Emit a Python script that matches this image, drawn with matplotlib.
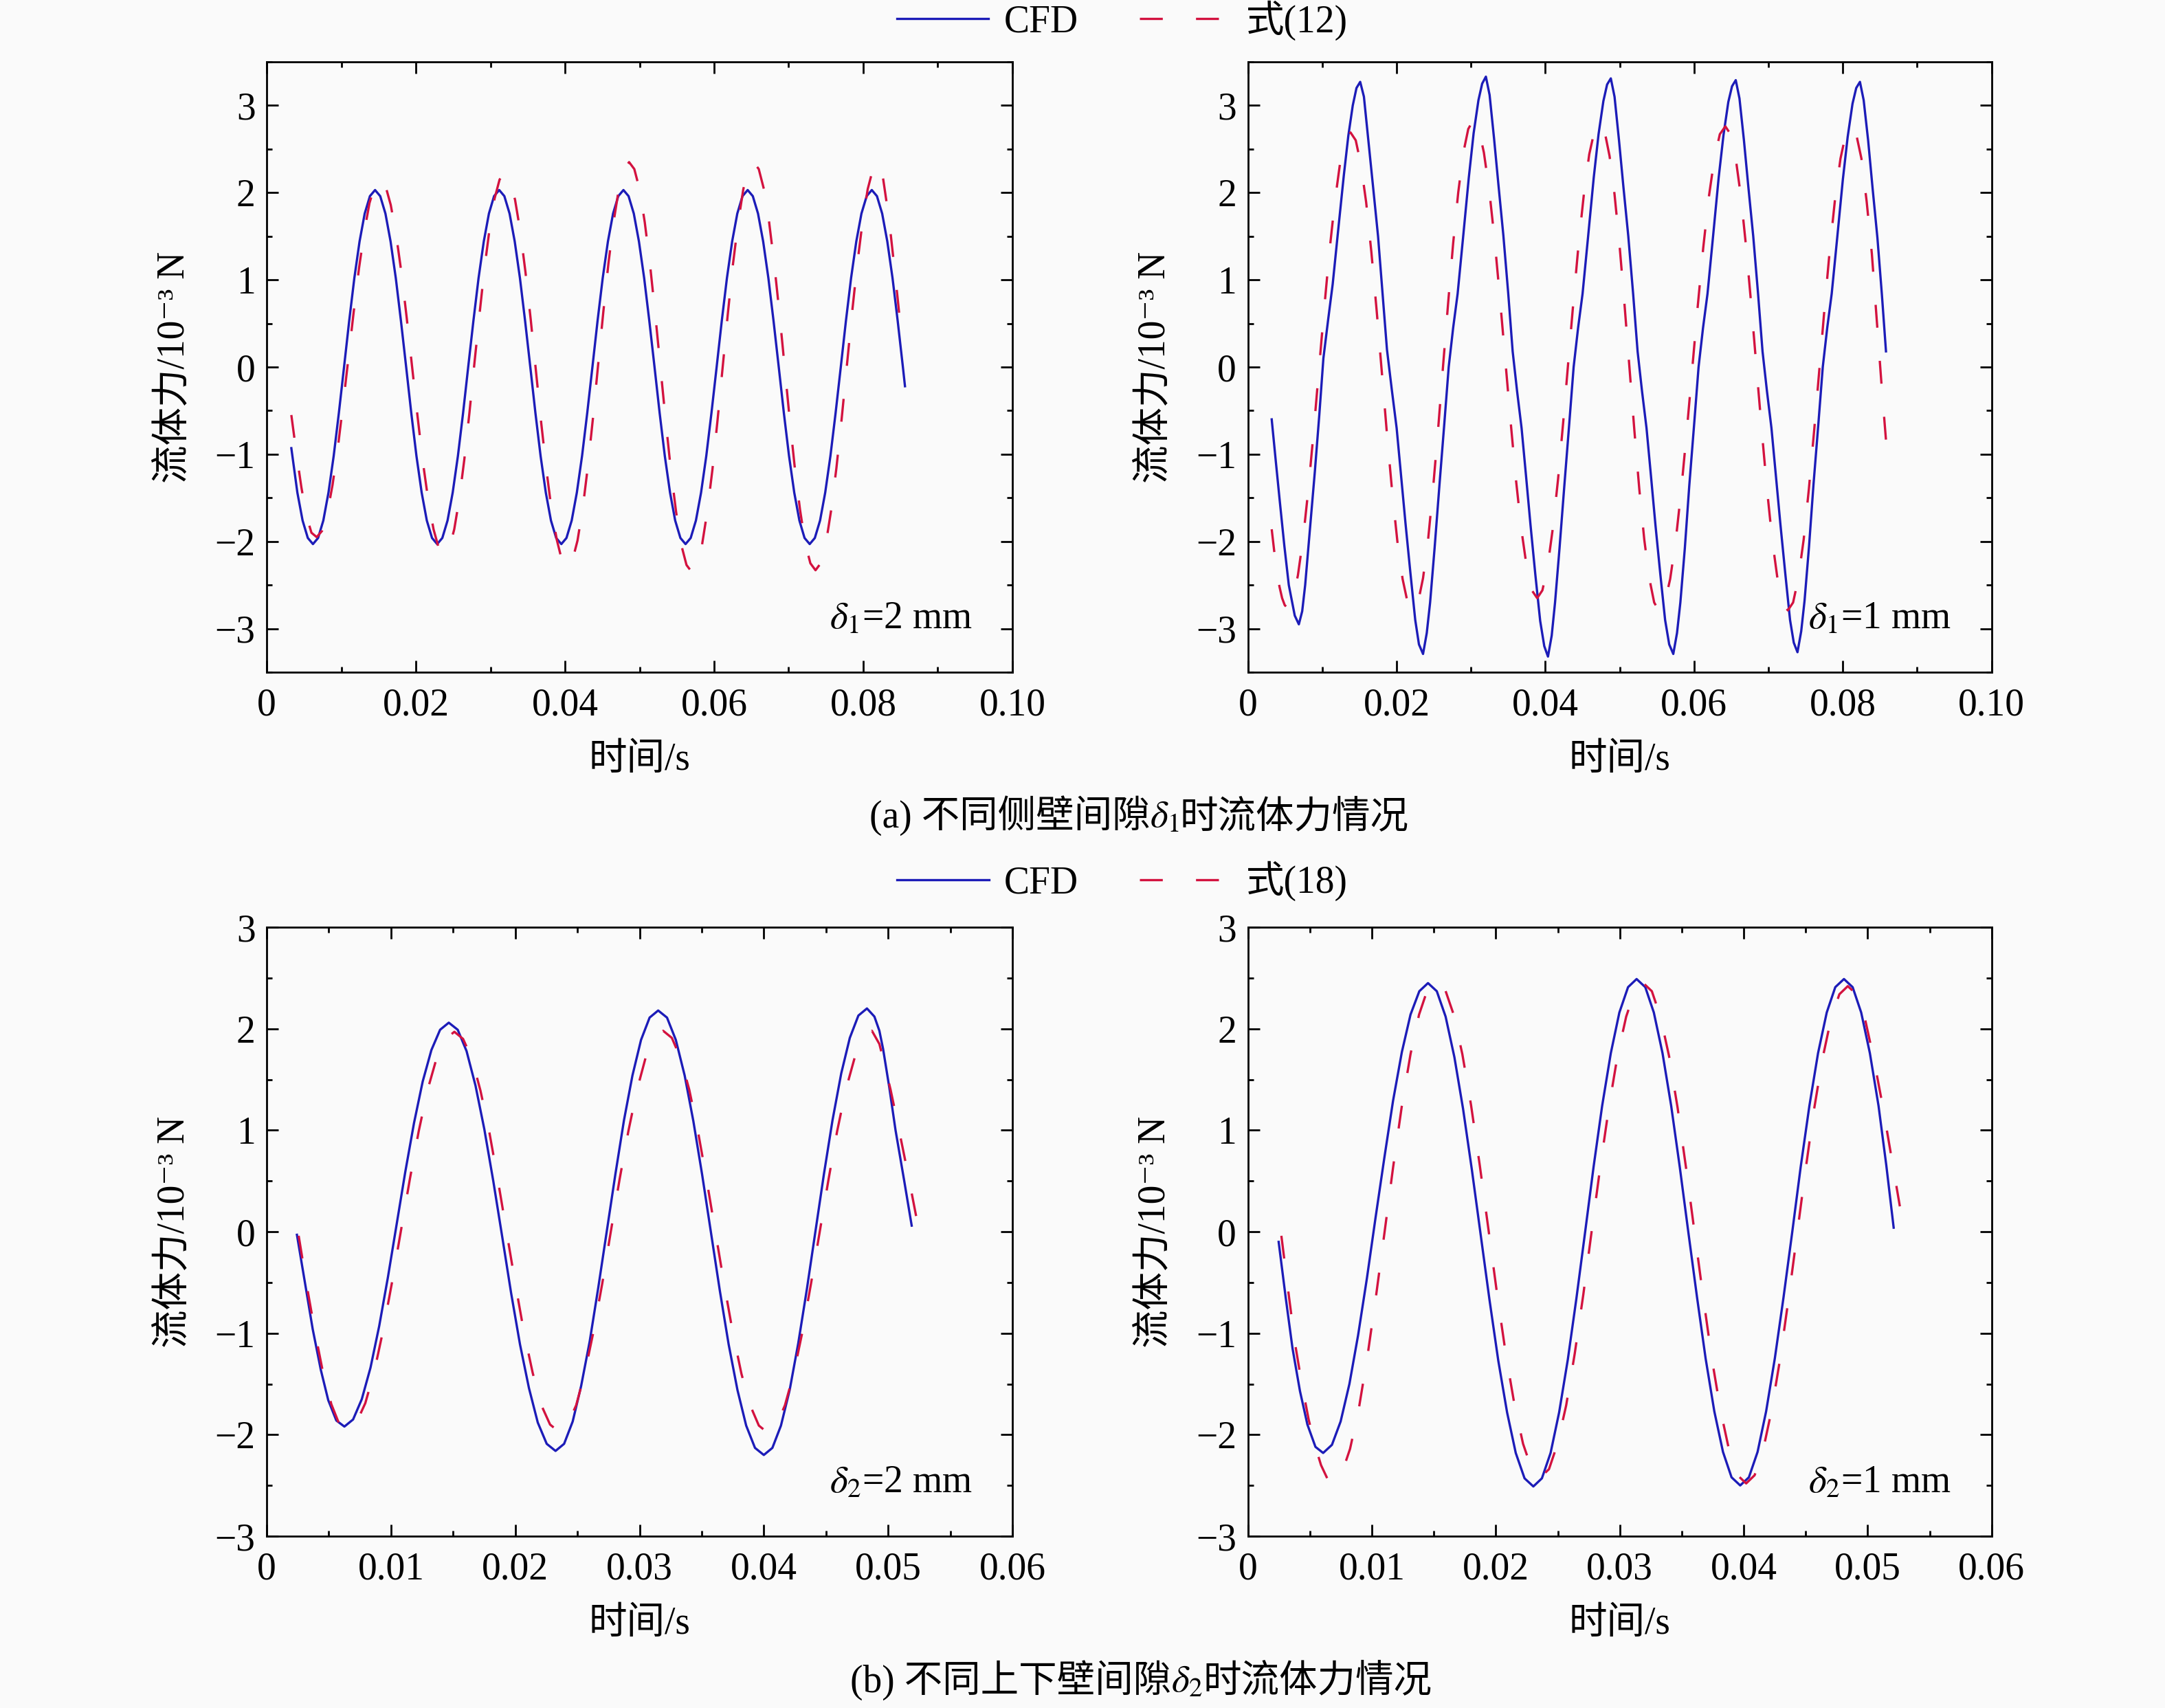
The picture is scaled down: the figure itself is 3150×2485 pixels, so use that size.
import numpy as np
import matplotlib
matplotlib.use("Agg")
import matplotlib.pyplot as plt
from matplotlib.ticker import MultipleLocator, FixedLocator, FixedFormatter

plt.rcParams["font.family"] = ["Liberation Serif", "Noto Sans CJK SC", "DejaVu Serif"]
plt.rcParams["mathtext.fontset"] = "stix"
plt.rcParams["axes.unicode_minus"] = True

# ---- data (time in ms, force in 1e-3 N) ----
# (a) side gap delta1 = 2 mm
t_a1_cfd = [3.3, 4.11, 4.81, 5.51, 6.20,
            6.89, 7.59, 8.28, 8.98, 9.67, 10.37, 11.06, 11.75, 12.45, 13.14, 13.84, 14.53,
            15.22, 15.92, 16.61, 17.31, 18.00, 18.70, 19.39, 20.08, 20.78, 21.47, 22.17, 22.86,
            23.55, 24.25, 24.94, 25.64, 26.33, 27.02, 27.72, 28.41, 29.11, 29.80, 30.49, 31.18,
            31.87, 32.57, 33.26, 33.96, 34.65, 35.35, 36.04, 36.73, 37.43, 38.12, 38.82, 39.51,
            40.20, 40.90, 41.59, 42.29, 42.98, 43.68, 44.37, 45.06, 45.76, 46.45, 47.15, 47.84,
            48.53, 49.23, 49.92, 50.62, 51.31, 52.01, 52.70, 53.39, 54.09, 54.78, 55.48, 56.17,
            56.86, 57.56, 58.25, 58.95, 59.64, 60.34, 61.03, 61.72, 62.42, 63.11, 63.81, 64.50,
            65.19, 65.89, 66.58, 67.28, 67.97, 68.67, 69.36, 70.05, 70.75, 71.44, 72.13, 72.82,
            73.51, 74.21, 74.90, 75.60, 76.29, 76.99, 77.68, 78.37, 79.07, 79.76, 80.46, 81.15,
            81.84, 82.54, 83.23, 83.93, 84.62, 85.32, 85.60]
f_a1_cfd = [-0.93, -1.44, -1.76, -1.96, -2.03,
            -1.96, -1.76, -1.44, -1.02, -0.53, 0.0, 0.53, 1.02, 1.44, 1.76, 1.96, 2.03,
            1.96, 1.76, 1.44, 1.02, 0.53, 0.0, -0.53, -1.02, -1.44, -1.76, -1.96, -2.03,
            -1.96, -1.76, -1.44, -1.02, -0.53, 0.0, 0.53, 1.02, 1.44, 1.76, 1.96, 2.03,
            1.96, 1.76, 1.44, 1.02, 0.53, 0.0, -0.53, -1.02, -1.44, -1.76, -1.96, -2.03,
            -1.96, -1.76, -1.44, -1.02, -0.53, 0.0, 0.53, 1.02, 1.44, 1.76, 1.96, 2.03,
            1.96, 1.76, 1.44, 1.02, 0.53, 0.0, -0.53, -1.02, -1.44, -1.76, -1.96, -2.03,
            -1.96, -1.76, -1.44, -1.02, -0.53, 0.0, 0.53, 1.02, 1.44, 1.76, 1.96, 2.03,
            1.96, 1.76, 1.44, 1.02, 0.53, 0.0, -0.53, -1.02, -1.44, -1.76, -1.96, -2.03,
            -1.96, -1.76, -1.44, -1.02, -0.53, 0.0, 0.53, 1.02, 1.44, 1.76, 1.96, 2.03,
            1.96, 1.76, 1.44, 1.02, 0.53, 0.0, -0.22]
t_a1_eq = [3.3, 4.0, 4.65, 5.3, 6.0, 6.7,
           7.41, 8.12, 8.83, 9.53, 10.24, 10.95, 11.66, 12.37, 13.08, 13.78, 14.49, 15.2,
           15.92, 16.63, 17.35, 18.07, 18.78, 19.5, 20.22, 20.93, 21.65, 22.37, 23.08, 23.8,
           24.48, 25.15, 25.83, 26.5, 27.18, 27.85, 28.53, 29.2, 29.88, 30.55, 31.23, 31.9,
           32.6, 33.3, 34.0, 34.7, 35.4, 36.1, 36.8, 37.5, 38.2, 38.9, 39.6, 40.3,
           40.99, 41.68, 42.38, 43.07, 43.76, 44.45, 45.14, 45.83, 46.53, 47.22, 47.91, 48.6,
           49.3, 50.0, 50.7, 51.4, 52.1, 52.8, 53.5, 54.2, 54.9, 55.6, 56.3, 57.0,
           57.69, 58.38, 59.08, 59.77, 60.46, 61.15, 61.84, 62.53, 63.23, 63.92, 64.61, 65.3,
           65.99, 66.68, 67.38, 68.07, 68.76, 69.45, 70.14, 70.83, 71.53, 72.22, 72.91, 73.6,
           74.3, 75.0, 75.7, 76.4, 77.1, 77.8, 78.5, 79.2, 79.9, 80.6, 81.3, 82.0,
           82.6, 83.2, 83.65, 84.1, 84.6, 85.1]
f_a1_eq = [-0.55, -1.0, -1.38, -1.7, -1.9, -1.95,
           -1.88, -1.68, -1.35, -0.93, -0.43, 0.10, 0.63, 1.13, 1.55, 1.88, 2.08, 2.15,
           2.08, 1.86, 1.52, 1.08, 0.56, 0.0, -0.56, -1.08, -1.52, -1.86, -2.08, -2.15,
           -2.08, -1.86, -1.51, -1.06, -0.53, 0.04, 0.60, 1.13, 1.58, 1.93, 2.15, 2.22,
           2.14, 1.92, 1.56, 1.09, 0.55, -0.04, -0.63, -1.17, -1.64, -1.98, -2.22, -2.30,
           -2.22, -1.99, -1.62, -1.14, -0.58, 0.03, 0.63, 1.19, 1.67, 2.04, 2.27, 2.35,
           2.27, 2.04, 1.66, 1.18, 0.61, 0.0, -0.61, -1.18, -1.66, -2.04, -2.27, -2.35,
           -2.27, -2.04, -1.66, -1.18, -0.61, 0.0, 0.61, 1.18, 1.66, 2.04, 2.27, 2.35,
           2.27, 2.04, 1.66, 1.18, 0.62, 0.01, -0.60, -1.16, -1.64, -2.02, -2.25, -2.33,
           -2.25, -2.02, -1.64, -1.16, -0.60, 0.01, 0.62, 1.18, 1.66, 2.04, 2.27, 2.35,
           2.20, 1.85, 1.55, 1.20, 0.80, 0.38]

# (a) side gap delta1 = 1 mm
t_a2_cfd = [3.2, 3.75, 4.3, 4.9, 5.5, 6.3, 6.85,
            7.3, 7.7, 8.35, 9.0, 9.6, 10.15, 10.8, 11.4, 12.15, 12.9, 13.5, 14.1, 14.6, 15.1,
            15.6, 16.2, 16.85, 17.5, 18.1, 18.7, 19.35, 20.0, 20.6, 21.2, 21.85, 22.5, 23.0, 23.55,
            24.05, 24.5, 25.1, 25.75, 26.4, 27.0, 27.6, 28.2, 28.95, 29.7, 30.35, 31.0, 31.5, 32.0,
            32.5, 33.1, 33.7, 34.35, 35.0, 35.6, 36.2, 36.8, 37.4, 38.0, 38.65, 39.3, 39.85, 40.35,
            40.85, 41.3, 41.9, 42.55, 43.2, 43.8, 44.4, 45.0, 45.75, 46.5, 47.15, 47.8, 48.3, 48.8,
            49.3, 49.9, 50.5, 51.15, 51.8, 52.4, 53.0, 53.6, 54.2, 54.8, 55.45, 56.1, 56.65, 57.2,
            57.7, 58.15, 58.75, 59.35, 60.0, 60.6, 61.2, 61.8, 62.55, 63.3, 63.95, 64.6, 65.1, 65.6,
            66.1, 66.7, 67.3, 67.95, 68.6, 69.2, 69.8, 70.4, 71.0, 71.6, 72.25, 72.9, 73.4, 73.9,
            74.4, 74.85, 75.45, 76.05, 76.7, 77.3, 77.9, 78.5, 79.25, 80.0, 80.65, 81.3, 81.8, 82.3,
            82.8, 83.4, 84.0, 84.65, 85.25, 85.8]
f_a2_cfd = [-0.60, -1.08, -1.55, -2.05, -2.50, -2.85, -2.95,
            -2.80, -2.50, -1.85, -1.20, -0.55, 0.10, 0.55, 0.95, 1.58, 2.20, 2.65, 3.00, 3.20, 3.27,
            3.10, 2.60, 2.05, 1.50, 0.85, 0.20, -0.26, -0.70, -1.25, -1.80, -2.36, -2.90, -3.18, -3.29,
            -3.05, -2.70, -2.08, -1.36, -0.66, 0.0, 0.45, 0.84, 1.50, 2.17, 2.68, 3.06, 3.25, 3.33,
            3.12, 2.62, 2.08, 1.51, 0.85, 0.18, -0.28, -0.70, -1.25, -1.81, -2.38, -2.91, -3.20, -3.32,
            -3.08, -2.70, -2.08, -1.36, -0.66, 0.0, 0.45, 0.84, 1.50, 2.17, 2.67, 3.05, 3.24, 3.31,
            3.10, 2.60, 2.06, 1.50, 0.84, 0.18, -0.28, -0.70, -1.25, -1.81, -2.37, -2.90, -3.18, -3.29,
            -3.05, -2.70, -2.08, -1.36, -0.66, 0.0, 0.45, 0.84, 1.50, 2.17, 2.66, 3.04, 3.22, 3.29,
            3.08, 2.60, 2.06, 1.50, 0.84, 0.18, -0.28, -0.70, -1.25, -1.80, -2.36, -2.90, -3.16, -3.27,
            -3.03, -2.68, -2.06, -1.35, -0.66, 0.0, 0.45, 0.84, 1.49, 2.15, 2.64, 3.02, 3.20, 3.27,
            3.06, 2.60, 2.05, 1.48, 0.83, 0.18]
t_a2_eq = [3.2, 3.55, 3.9, 4.25, 4.6, 4.95, 5.3,
           6.01, 6.72, 7.43, 8.13, 8.84, 9.55, 10.26, 10.97, 11.68, 12.38, 13.09, 13.8,
           14.5, 15.2, 15.9, 16.6, 17.3, 18.0, 18.7, 19.4, 20.1, 20.8, 21.5, 22.2,
           22.88, 23.55, 24.23, 24.9, 25.58, 26.25, 26.93, 27.6, 28.28, 28.95, 29.63, 30.3,
           31.02, 31.73, 32.45, 33.17, 33.88, 34.6, 35.32, 36.03, 36.75, 37.47, 38.18, 38.9,
           39.6, 40.3, 41.0, 41.7, 42.4, 43.1, 43.8, 44.5, 45.2, 45.9, 46.6, 47.3,
           47.97, 48.63, 49.3, 49.97, 50.63, 51.3, 51.97, 52.63, 53.3, 53.97, 54.63, 55.3,
           56.04, 56.78, 57.53, 58.27, 59.01, 59.75, 60.49, 61.23, 61.98, 62.72, 63.46, 64.2,
           64.9, 65.6, 66.3, 67.0, 67.7, 68.4, 69.1, 69.8, 70.5, 71.2, 71.9, 72.6,
           73.31, 74.02, 74.73, 75.43, 76.14, 76.85, 77.56, 78.27, 78.98, 79.68, 80.39, 81.1,
           81.8, 82.5, 83.2, 83.9, 84.55, 85.2, 86.0]
f_a2_eq = [-1.86, -2.12, -2.35, -2.52, -2.65, -2.73, -2.76,
           -2.67, -2.39, -1.96, -1.40, -0.74, -0.03, 0.67, 1.33, 1.89, 2.33, 2.60, 2.69,
           2.60, 2.32, 1.89, 1.32, 0.66, -0.05, -0.77, -1.43, -2.00, -2.43, -2.71, -2.80,
           -2.70, -2.42, -1.98, -1.39, -0.71, 0.02, 0.74, 1.42, 2.00, 2.45, 2.73, 2.83,
           2.74, 2.46, 2.03, 1.46, 0.80, 0.09, -0.62, -1.28, -1.85, -2.28, -2.56, -2.65,
           -2.56, -2.29, -1.85, -1.29, -0.63, 0.08, 0.78, 1.44, 2.00, 2.44, 2.71, 2.80,
           2.70, 2.42, 1.98, 1.40, 0.73, 0.0, -0.73, -1.40, -1.98, -2.42, -2.70, -2.80,
           -2.71, -2.43, -1.99, -1.41, -0.74, -0.02, 0.70, 1.37, 1.95, 2.39, 2.67, 2.76,
           2.67, 2.39, 1.95, 1.37, 0.70, -0.02, -0.73, -1.40, -1.98, -2.42, -2.70, -2.79,
           -2.70, -2.42, -1.98, -1.40, -0.73, -0.02, 0.70, 1.37, 1.95, 2.39, 2.67, 2.76,
           2.67, 2.39, 1.90, 1.30, 0.55, -0.20, -1.05]

# (b) upper/lower gap delta2 = 2 mm
t_b1_cfd = [2.43, 3.1, 3.7, 4.35, 4.95, 5.6, 6.25,
            6.95, 7.65, 8.35, 9.05, 9.75, 10.45, 11.15, 11.85, 12.55, 13.25, 13.95, 14.65,
            15.37, 16.08, 16.8, 17.51, 18.23, 18.95, 19.66, 20.38, 21.1, 21.81, 22.53, 23.24,
            23.93, 24.62, 25.3, 25.99, 26.68, 27.37, 28.06, 28.75, 29.43, 30.12, 30.81, 31.5,
            32.21, 32.92, 33.63, 34.33, 35.04, 35.75, 36.46, 37.17, 37.88, 38.58, 39.29, 40.0,
            40.69, 41.38, 42.08, 42.77, 43.46, 44.15, 44.84, 45.53, 46.23, 46.92, 47.61, 48.3,
            48.9, 49.3, 49.6, 50.1, 50.6, 51.3, 51.9]
f_b1_cfd = [-0.03, -0.52, -0.96, -1.36, -1.66, -1.86, -1.92,
            -1.85, -1.65, -1.34, -0.93, -0.45, 0.07, 0.59, 1.07, 1.48, 1.79, 1.99, 2.06,
            1.99, 1.78, 1.44, 1.01, 0.50, -0.05, -0.60, -1.11, -1.54, -1.88, -2.09, -2.16,
            -2.09, -1.87, -1.52, -1.08, -0.55, 0.01, 0.57, 1.10, 1.54, 1.89, 2.11, 2.18,
            2.11, 1.89, 1.54, 1.09, 0.56, -0.01, -0.58, -1.11, -1.56, -1.91, -2.13, -2.20,
            -2.13, -1.91, -1.56, -1.10, -0.57, 0.0, 0.57, 1.10, 1.56, 1.91, 2.13, 2.20,
            2.12, 1.98, 1.80, 1.42, 1.00, 0.50, 0.06]
t_b1_eq = [2.57, 3.25, 3.9, 4.55, 5.2, 5.85, 6.5,
           7.22, 7.93, 8.65, 9.37, 10.08, 10.8, 11.52, 12.23, 12.95, 13.67, 14.38, 15.1,
           15.8, 16.5, 17.2, 17.9, 18.6, 19.3, 20.0, 20.7, 21.4, 22.1, 22.8, 23.5,
           24.2, 24.9, 25.6, 26.3, 27.0, 27.7, 28.4, 29.1, 29.8, 30.5, 31.2, 31.9,
           32.6, 33.3, 34.0, 34.7, 35.4, 36.1, 36.8, 37.5, 38.2, 38.9, 39.6, 40.3,
           41.0, 41.7, 42.4, 43.1, 43.8, 44.5, 45.2, 45.9, 46.6, 47.3, 48.0, 48.7,
           49.3, 49.75, 50.2, 50.75, 51.3, 51.9, 52.5]
f_b1_eq = [-0.04, -0.55, -1.0, -1.4, -1.7, -1.9, -1.95,
           -1.88, -1.69, -1.38, -0.97, -0.50, 0.01, 0.52, 0.99, 1.40, 1.71, 1.90, 1.97,
           1.90, 1.71, 1.39, 0.99, 0.51, 0.0, -0.51, -0.99, -1.39, -1.71, -1.90, -1.97,
           -1.90, -1.71, -1.39, -0.98, -0.51, 0.01, 0.52, 0.99, 1.40, 1.72, 1.91, 1.98,
           1.91, 1.71, 1.40, 0.99, 0.51, 0.0, -0.51, -0.99, -1.40, -1.71, -1.91, -1.98,
           -1.91, -1.71, -1.40, -0.99, -0.51, 0.0, 0.51, 0.99, 1.40, 1.71, 1.91, 1.98,
           1.85, 1.63, 1.40, 1.08, 0.75, 0.38, 0.0]

# (b) upper/lower gap delta2 = 1 mm
t_b2_cfd = [2.48, 3.05, 3.6, 4.2, 4.8, 5.45, 6.07,
            6.78, 7.48, 8.19, 8.89, 9.6, 10.3, 11.01, 11.71, 12.42, 13.12, 13.83, 14.53,
            15.24, 15.95, 16.66, 17.36, 18.07, 18.78, 19.49, 20.2, 20.91, 21.61, 22.32, 23.03,
            23.72, 24.42, 25.11, 25.81, 26.5, 27.2, 27.89, 28.58, 29.28, 29.97, 30.67, 31.36,
            32.06, 32.75, 33.45, 34.15, 34.84, 35.54, 36.24, 36.93, 37.63, 38.33, 39.02, 39.72,
            40.42, 41.12, 41.81, 42.51, 43.21, 43.91, 44.6, 45.3, 46.0, 46.7, 47.39, 48.09,
            48.79, 49.48, 50.18, 50.88, 51.5, 52.1]
f_b2_cfd = [-0.10, -0.65, -1.15, -1.57, -1.90, -2.12, -2.18,
            -2.10, -1.87, -1.50, -1.02, -0.46, 0.14, 0.73, 1.29, 1.77, 2.14, 2.37, 2.45,
            2.37, 2.12, 1.72, 1.21, 0.61, -0.03, -0.67, -1.27, -1.78, -2.18, -2.43, -2.51,
            -2.43, -2.18, -1.78, -1.26, -0.66, -0.01, 0.64, 1.24, 1.76, 2.16, 2.41, 2.49,
            2.41, 2.16, 1.76, 1.24, 0.64, -0.01, -0.65, -1.25, -1.77, -2.17, -2.42, -2.50,
            -2.42, -2.17, -1.77, -1.25, -0.65, -0.01, 0.64, 1.24, 1.76, 2.16, 2.41, 2.49,
            2.41, 2.16, 1.76, 1.24, 0.66, 0.04]
t_b2_eq = [2.7, 3.25, 3.8, 4.35, 4.9, 5.4, 5.9, 6.4, 6.85,
           7.55, 8.24, 8.94, 9.63, 10.33, 11.03, 11.72, 12.42, 13.12, 13.81, 14.5, 15.2,
           15.9, 16.6, 17.3, 18.0, 18.7, 19.4, 20.1, 20.8, 21.5, 22.2, 22.9, 23.6,
           24.29, 24.98, 25.68, 26.37, 27.06, 27.75, 28.44, 29.13, 29.83, 30.52, 31.21, 31.9,
           32.59, 33.28, 33.98, 34.67, 35.36, 36.05, 36.74, 37.43, 38.13, 38.82, 39.51, 40.2,
           40.88, 41.57, 42.25, 42.93, 43.62, 44.3, 44.98, 45.67, 46.35, 47.03, 47.72, 48.4,
           49.1, 49.8, 50.5, 51.2, 51.9, 52.6]
f_b2_eq = [-0.04, -0.58, -1.10, -1.50, -1.85, -2.10, -2.30, -2.43, -2.47,
           -2.39, -2.14, -1.75, -1.24, -0.64, 0.0, 0.64, 1.24, 1.75, 2.14, 2.39, 2.47,
           2.39, 2.14, 1.75, 1.25, 0.66, 0.03, -0.61, -1.20, -1.70, -2.09, -2.34, -2.42,
           -2.34, -2.09, -1.71, -1.20, -0.62, 0.02, 0.65, 1.23, 1.74, 2.12, 2.37, 2.45,
           2.37, 2.12, 1.73, 1.22, 0.62, -0.02, -0.65, -1.25, -1.76, -2.15, -2.40, -2.48,
           -2.40, -2.15, -1.76, -1.26, -0.66, -0.03, 0.60, 1.20, 1.70, 2.09, 2.34, 2.42,
           2.34, 2.09, 1.70, 1.25, 0.75, 0.25]

xtick_labels_a = ["0", "0.02", "0.04", "0.06", "0.08", "0.10"]
xtick_labels_b = ["0", "0.01", "0.02", "0.03", "0.04", "0.05", "0.06"]
ytick_a = [-3, -2, -1, 0, 1, 2, 3]
ytick_b = [-3, -2, -1, 0, 1, 2, 3]

BLUE = "#1c1cb8"
RED = "#d3123f"
BG = "#fafafa"
FS = 20


def draw_panel(ax, t_cfd, f_cfd, t_eq, f_eq, xlabels, xstep, yticks, ylim, note):
    l1, = ax.plot(np.array(t_cfd) / 1000.0, f_cfd, color=BLUE, lw=1.2)
    l2, = ax.plot(np.array(t_eq) / 1000.0, f_eq, color=RED, lw=1.2,
                  dashes=(10, 14.5))
    xt = [i * xstep for i in range(len(xlabels))]
    ax.set_xlim(0, xt[-1])
    ax.set_ylim(*ylim)
    ax.xaxis.set_major_locator(FixedLocator(xt))
    ax.xaxis.set_major_formatter(FixedFormatter(xlabels))
    ax.xaxis.set_minor_locator(MultipleLocator(xstep / 2))
    ax.set_yticks(yticks)
    ax.yaxis.set_minor_locator(MultipleLocator(0.5))
    ax.tick_params(which="both", direction="in", top=True, right=True,
                   width=1.0, labelsize=FS)
    ax.tick_params(which="major", length=6)
    ax.tick_params(which="minor", length=3)
    ax.tick_params(axis="x", pad=8)
    ax.tick_params(axis="y", pad=6)
    for sp in ax.spines.values():
        sp.set_linewidth(1.0)
    ax.set_facecolor(BG)
    ax.set_xlabel("时间/s", fontsize=FS, labelpad=10)
    ax.set_ylabel("流体力/10⁻³ N", fontsize=FS, labelpad=12)
    ax.text(0.946, 0.087, note, transform=ax.transAxes, ha="right",
            va="center", fontsize=FS)
    return l1, l2


def caption(fig, xc, y, pieces):
    # pieces laid out left to right, then centred on xc
    renderer = fig.canvas.get_renderer()
    arts = [fig.text(0, y, s, ha="left", va="baseline", fontsize=FS)
            for s in pieces]
    widths = [a.get_window_extent(renderer).width / fig.bbox.width for a in arts]
    x = xc - sum(widths) / 2
    for a, w in zip(arts, widths):
        a.set_x(x)
        x += w


fig = plt.figure(figsize=(15.75, 12.425), dpi=200, facecolor=BG)

ax1 = fig.add_axes([0.1232, 0.6064, 0.3444, 0.3574])
ax2 = fig.add_axes([0.5764, 0.6064, 0.3435, 0.3574])
ax3 = fig.add_axes([0.1232, 0.1006, 0.3444, 0.3565])
ax4 = fig.add_axes([0.5764, 0.1006, 0.3435, 0.3565])

h_a = draw_panel(ax1, t_a1_cfd, f_a1_cfd, t_a1_eq, f_a1_eq, xtick_labels_a,
                 0.02, ytick_a, (-3.5, 3.5), r"$\delta_1$=2 mm")
draw_panel(ax2, t_a2_cfd, f_a2_cfd, t_a2_eq, f_a2_eq, xtick_labels_a,
           0.02, ytick_a, (-3.5, 3.5), r"$\delta_1$=1 mm")
h_b = draw_panel(ax3, t_b1_cfd, f_b1_cfd, t_b1_eq, f_b1_eq, xtick_labels_b,
                 0.01, ytick_b, (-3, 3), r"$\delta_2$=2 mm")
draw_panel(ax4, t_b2_cfd, f_b2_cfd, t_b2_eq, f_b2_eq, xtick_labels_b,
           0.01, ytick_b, (-3, 3), r"$\delta_2$=1 mm")

leg_kw = dict(loc="center", ncol=2, frameon=False, fontsize=FS,
              handlelength=2.4, handletextpad=0.4, columnspacing=1.6)
fig.legend(h_a, ["CFD", "式(12)"], bbox_to_anchor=(0.5185, 0.988), **leg_kw)
fig.legend(h_b, ["CFD", "式(18)"], bbox_to_anchor=(0.5185, 0.484), **leg_kw)

caption(fig, 0.526, 0.5155, ["(a) 不同侧壁间隙", r"$\delta_1$", "时流体力情况"])
caption(fig, 0.527, 0.0095, ["(b) 不同上下壁间隙", r"$\delta_2$", "时流体力情况"])

fig.savefig("out.png", dpi=200, facecolor=BG)
